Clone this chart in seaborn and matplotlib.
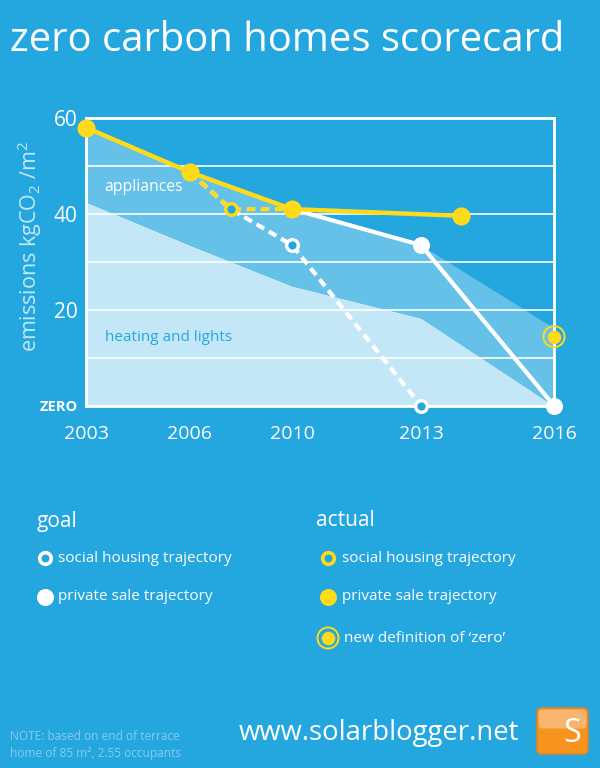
import numpy as np
import pandas as pd
import matplotlib
matplotlib.use("Agg")
import matplotlib.pyplot as plt
import seaborn as sns
from matplotlib.patches import FancyBboxPatch

# ---------------- data ----------------
tick_years = [2003, 2006, 2010, 2013, 2016]
tick_labels = ["2003", "2006", "2010", "2013", "2016"]
ytick_vals = [0, 10, 20, 30, 40, 50, 60]
ytick_labels = ["ZERO", "", "20", "", "40", "", "60"]

band_years = [2003, 2006, 2010, 2013, 2016]
heating_top = [42.5, 33.5, 25.0, 18.3, 0.0]
appliances_top = [58.0, 48.7, 41.0, 33.5, 16.2]

actual_private_years = [2003, 2006, 2010, 2013.9]
actual_private = [58.0, 48.7, 41.0, 39.6]
actual_social_years = [2006, 2007.6, 2010]
actual_social = [48.7, 41.0, 41.0]
goal_social_years = [2006, 2007.6, 2010, 2013]
goal_social = [48.7, 41.0, 33.5, 0.0]
goal_private_years = [2010, 2013, 2016]
goal_private = [41.0, 33.5, 0.0]
new_zero_year = [2016]
new_zero = [14.4]

# ---------------- style ----------------
BG = "#24A6DF"
YEL = "#FFDA1A"
MID = "#66C1E8"
LIGHT = "#C4E7F7"
LABEL = "#C5E9F8"
NOTE = "#86CDEE"
DASH = (0, (2.1, 1.3))

sns.set_style("white")
plt.rcParams["font.family"] = ["Open Sans", "DejaVu Sans"]
plt.rcParams["mathtext.fontset"] = "custom"
plt.rcParams["mathtext.rm"] = "Open Sans"
plt.rcParams["mathtext.it"] = "Open Sans"
plt.rcParams["mathtext.default"] = "rm"

fig = plt.figure(figsize=(6, 7.68), dpi=100, facecolor=BG)
W, H = 600, 768
ax = fig.add_axes([86 / W, 1 - 405.7 / H, 468 / W, (405.7 - 118) / H])
ax.set_facecolor(BG)

# bands
ax.fill_between(band_years, 0, heating_top, color=LIGHT, lw=0, zorder=1)
ax.fill_between(band_years, heating_top, appliances_top, color=MID, lw=0, zorder=1)

# goal lines (white)
sns.lineplot(x=goal_private_years, y=goal_private, ax=ax, color="white",
             lw=3.0, zorder=3, clip_on=False)
sns.lineplot(x=goal_social_years, y=goal_social, ax=ax, color="white",
             lw=3.0, ls=DASH, zorder=3, clip_on=False)
# actual lines (yellow)
sns.lineplot(x=actual_social_years, y=actual_social, ax=ax, color=YEL,
             lw=3.0, ls=DASH, zorder=4, clip_on=False)
sns.lineplot(x=actual_private_years, y=actual_private, ax=ax, color=YEL,
             lw=3.2, zorder=4, clip_on=False)

# markers
sns.scatterplot(x=goal_private_years[1:], y=goal_private[1:], ax=ax, color="white",
                s=150, linewidth=0, zorder=5, clip_on=False)
sns.scatterplot(x=goal_social_years[2:], y=goal_social[2:], ax=ax, facecolor=BG,
                edgecolor="white", s=70, linewidth=2.4, zorder=5, clip_on=False)
sns.scatterplot(x=actual_social_years[1:2], y=actual_social[1:2], ax=ax, facecolor=BG,
                edgecolor=YEL, s=70, linewidth=2.4, zorder=6, clip_on=False)
sns.scatterplot(x=actual_private_years, y=actual_private, ax=ax, color=YEL,
                s=170, linewidth=0, zorder=6, clip_on=False)
sns.scatterplot(x=new_zero_year, y=new_zero, ax=ax, facecolor="none",
                edgecolor=YEL, s=230, linewidth=1.4, zorder=6, clip_on=False)
sns.scatterplot(x=new_zero_year, y=new_zero, ax=ax, color=YEL,
                s=95, linewidth=0, zorder=6, clip_on=False)

# piecewise x scale (ticks not evenly spaced in the original)
tick_pos = [0.0, 0.222, 0.4402, 0.7158, 1.0]
fwd = lambda v: np.interp(v, tick_years, tick_pos)
inv = lambda v: np.interp(v, tick_pos, tick_years)
ax.set_xscale("function", functions=(fwd, inv))
ax.set_xlim(2003, 2016)
ax.set_ylim(0, 60)

ax.set_xticks(tick_years)
ax.set_xticklabels(tick_labels, fontsize=14, color="white")
ax.set_yticks(ytick_vals)
ax.set_yticklabels(ytick_labels, fontsize=15, color="white")
for t in ax.get_yticklabels():
    if t.get_text() == "ZERO":
        t.set_fontsize(10.5)
        t.set_fontweight("bold")
ax.tick_params(axis="both", length=0)
ax.tick_params(axis="x", pad=14)
ax.tick_params(axis="y", pad=6)
ax.minorticks_off()

ax.set_axisbelow("line")
ax.grid(axis="y", color="white", lw=1.3, alpha=0.9)
ax.grid(axis="x", visible=False)
for s in ax.spines.values():
    s.set_color("white")
    s.set_linewidth(2)
    s.set_visible(True)
ax.set_ylabel("")

ax.text(0.04, 0.76, "appliances", transform=ax.transAxes, fontsize=11.3,
        color="white", va="center", zorder=7)
ax.text(0.04, 0.237, "heating and lights", transform=ax.transAxes, fontsize=11,
        color=BG, va="center", zorder=7)

# ---------------- overlay (title, legend, footer) ----------------
ov = fig.add_axes([0, 0, 1, 1], facecolor="none")
ov.set_xlim(0, W)
ov.set_ylim(H, 0)
ov.axis("off")

ov.text(287, 41, "zero carbon homes scorecard", fontsize=28.8, color="white",
        ha="center", va="center")

ov.text(30, 246, "emissions kgCO$_{2}$ /m$^{2}$", fontsize=15.5, color=LABEL,
        rotation=90, ha="center", va="center")

ov.text(37, 521, "goal", fontsize=15, color="white", va="center")
ov.text(316, 521, "actual", fontsize=15, color="white", va="center")

leg_font = 11
ov.scatter([45], [558], s=70, facecolor=BG, edgecolor="white", linewidth=2.6)
ov.text(58, 558, "social housing trajectory", fontsize=leg_font, color="white", va="center")
ov.scatter([45], [597], s=150, color="white", linewidth=0)
ov.text(58, 597, "private sale trajectory", fontsize=leg_font, color="white", va="center")

ov.scatter([328], [558], s=70, facecolor=BG, edgecolor=YEL, linewidth=2.6)
ov.text(342, 558, "social housing trajectory", fontsize=leg_font, color="white", va="center")
ov.scatter([328], [597], s=150, color=YEL, linewidth=0)
ov.text(342, 597, "private sale trajectory", fontsize=leg_font, color="white", va="center")
ov.scatter([328], [638], s=230, facecolor="none", edgecolor=YEL, linewidth=1.4)
ov.scatter([328], [638], s=95, color=YEL, linewidth=0)
ov.text(344, 638, "new definition of \u2018zero\u2019", fontsize=leg_font, color="white", va="center")

ov.text(10, 737, "NOTE: based on end of terrace", fontsize=8.6, color=NOTE, va="center")
ov.text(10, 753, "home of 85 m\u00b2, 2.55 occupants", fontsize=8.6, color=NOTE, va="center")

ov.text(239, 733, "www.solarblogger.net", fontsize=19.8, color="white", va="center")

logo = FancyBboxPatch((537, 708), 51, 46, boxstyle="round,pad=0,rounding_size=5",
                      facecolor="#F7941E", edgecolor="#E8831A", lw=1)
ov.add_patch(logo)
top = FancyBboxPatch((538.5, 709.5), 48, 19, boxstyle="round,pad=0,rounding_size=4",
                     facecolor="#F9B46E", edgecolor="none")
ov.add_patch(top)
ov.text(572, 734, "S", fontsize=23, color="white", ha="center", va="center")

fig.savefig("out.png", dpi=100, facecolor=BG)
